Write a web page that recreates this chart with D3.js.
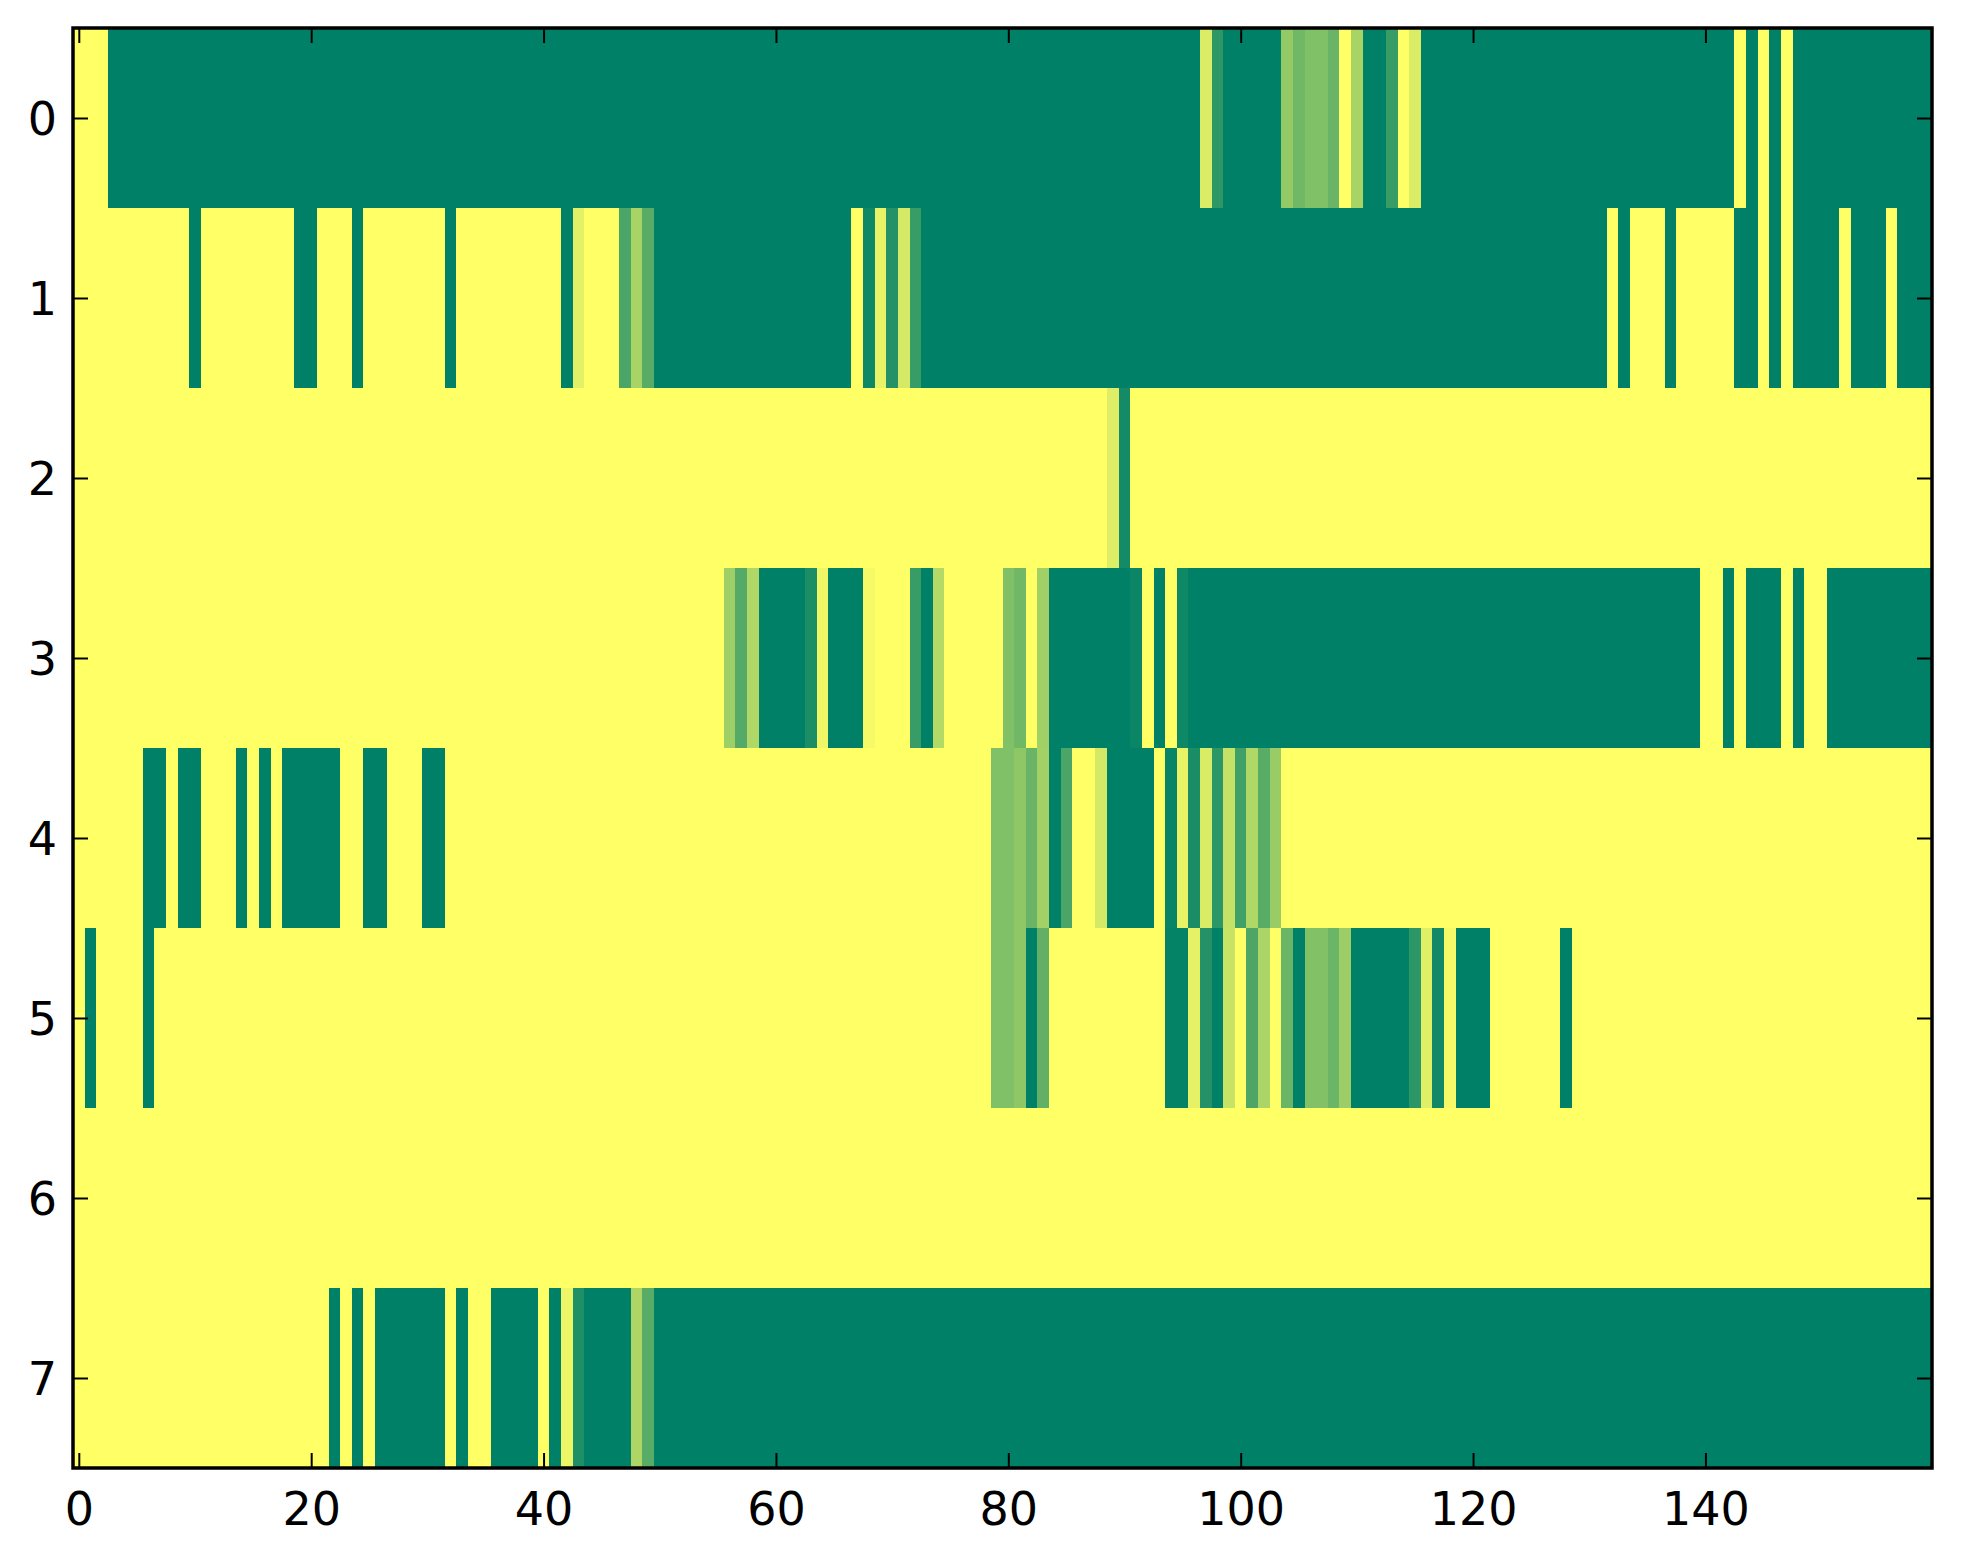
<!DOCTYPE html>
<html>
<head>
<meta charset="utf-8">
<script src="https://cdn.jsdelivr.net/npm/d3@7"></script>
<style>
    body { margin: 0; background: #fff; }
    .tick text { font-family: "DejaVu Sans", sans-serif; font-size: 46px; fill: #000; }
</style>
</head>
<body>
<div id="heatmap"></div>
<script>
// values, one array per row (160 columns each)
const row0 = [
    1,1,1,0,0,0,0,0,0,0,
    0,0,0,0,0,0,0,0,0,0,
    0,0,0,0,0,0,0,0,0,0,
    0,0,0,0,0,0,0,0,0,0,
    0,0,0,0,0,0,0,0,0,0,
    0,0,0,0,0,0,0,0,0,0,
    0,0,0,0,0,0,0,0,0,0,
    0,0,0,0,0,0,0,0,0,0,
    0,0,0,0,0,0,0,0,0,0,
    0,0,0,0,0,0,0,0.86,0.18,0,
    0,0,0,0,0.58,0.44,0.5,0.5,0.41,1,
    0.66,0,0,0.22,1,0.86,0,0,0,0,
    0,0,0,0,0,0,0,0,0,0,
    0,0,0,0,0,0,0,0,0,0,
    0,0,0,1,0,1,0,1,0,0,
    0,0,0,0,0,0,0,0,0,0
];
const row1 = [
    1,1,1,1,1,1,1,1,1,1,
    0,1,1,1,1,1,1,1,1,0,
    0,1,1,1,0,1,1,1,1,1,
    1,1,0,1,1,1,1,1,1,1,
    1,1,0,0.89,1,1,1,0.29,0.66,0.35,
    0,0,0,0,0,0,0,0,0,0,
    0,0,0,0,0,0,0,1,0.06,0.91,
    0.14,0.83,0.22,0,0,0,0,0,0,0,
    0,0,0,0,0,0,0,0,0,0,
    0,0,0,0,0,0,0,0,0,0,
    0,0,0,0,0,0,0,0,0,0,
    0,0,0,0,0,0,0,0,0,0,
    0,0,0,0,0,0,0,0,0,0,
    0,0,1,0,1,1,1,0,1,1,
    1,1,1,0,0,1,0,1,0,0,
    0,0,1,0,0,0,1,0,0,0
];
const row2 = [
    1,1,1,1,1,1,1,1,1,1,
    1,1,1,1,1,1,1,1,1,1,
    1,1,1,1,1,1,1,1,1,1,
    1,1,1,1,1,1,1,1,1,1,
    1,1,1,1,1,1,1,1,1,1,
    1,1,1,1,1,1,1,1,1,1,
    1,1,1,1,1,1,1,1,1,1,
    1,1,1,1,1,1,1,1,1,1,
    1,1,1,1,1,1,1,1,1,0.87,
    0.08,1,1,1,1,1,1,1,1,1,
    1,1,1,1,1,1,1,1,1,1,
    1,1,1,1,1,1,1,1,1,1,
    1,1,1,1,1,1,1,1,1,1,
    1,1,1,1,1,1,1,1,1,1,
    1,1,1,1,1,1,1,1,1,1,
    1,1,1,1,1,1,1,1,1,1
];
const row3 = [
    1,1,1,1,1,1,1,1,1,1,
    1,1,1,1,1,1,1,1,1,1,
    1,1,1,1,1,1,1,1,1,1,
    1,1,1,1,1,1,1,1,1,1,
    1,1,1,1,1,1,1,1,1,1,
    1,1,1,1,1,1,0.62,0.33,0.69,0,
    0,0,0,0.11,0.94,0,0,0,0.96,1,
    1,1,0.22,0,0.7,1,1,1,1,1,
    0.5,0.44,1,0.63,0,0,0,0,0,0,
    0,0.04,1,0,1,0.06,0,0,0,0,
    0,0,0,0,0,0,0,0,0,0,
    0,0,0,0,0,0,0,0,0,0,
    0,0,0,0,0,0,0,0,0,0,
    0,0,0,0,0,0,0,0,0,0,
    1,1,0,1,0,0,0,1,0,1,
    1,0,0,0,0,0,0,0,0,0
];
const row4 = [
    1,1,1,1,1,1,0,0,1,0,
    0,1,1,1,0,1,0,1,0,0,
    0,0,0,1,1,0,0,1,1,1,
    0,0,1,1,1,1,1,1,1,1,
    1,1,1,1,1,1,1,1,1,1,
    1,1,1,1,1,1,1,1,1,1,
    1,1,1,1,1,1,1,1,1,1,
    1,1,1,1,1,1,1,1,1,0.5,
    0.5,0.56,0.41,0.64,0,0.29,1,1,0.83,0,
    0,0,0,1,0.03,0.91,0.1,0.85,0.17,0.77,
    0.25,0.69,0.35,0.6,1,1,1,1,1,1,
    1,1,1,1,1,1,1,1,1,1,
    1,1,1,1,1,1,1,1,1,1,
    1,1,1,1,1,1,1,1,1,1,
    1,1,1,1,1,1,1,1,1,1,
    1,1,1,1,1,1,1,1,1,1
];
const row5 = [
    1,0,1,1,1,1,0,1,1,1,
    1,1,1,1,1,1,1,1,1,1,
    1,1,1,1,1,1,1,1,1,1,
    1,1,1,1,1,1,1,1,1,1,
    1,1,1,1,1,1,1,1,1,1,
    1,1,1,1,1,1,1,1,1,1,
    1,1,1,1,1,1,1,1,1,1,
    1,1,1,1,1,1,1,1,1,0.5,
    0.5,0.56,0,0.38,1,1,1,1,1,1,
    1,1,1,1,0.02,0.02,0.9,0.14,0,0.78,
    1,0.3,0.67,1,0.42,0,0.51,0.51,0.42,0.61,
    0,0,0,0,0,0.17,0.88,0.07,0.96,0,
    0,0,1,1,1,1,1,1,0,1,
    1,1,1,1,1,1,1,1,1,1,
    1,1,1,1,1,1,1,1,1,1,
    1,1,1,1,1,1,1,1,1,1
];
const row6 = [
    1,1,1,1,1,1,1,1,1,1,
    1,1,1,1,1,1,1,1,1,1,
    1,1,1,1,1,1,1,1,1,1,
    1,1,1,1,1,1,1,1,1,1,
    1,1,1,1,1,1,1,1,1,1,
    1,1,1,1,1,1,1,1,1,1,
    1,1,1,1,1,1,1,1,1,1,
    1,1,1,1,1,1,1,1,1,1,
    1,1,1,1,1,1,1,1,1,1,
    1,1,1,1,1,1,1,1,1,1,
    1,1,1,1,1,1,1,1,1,1,
    1,1,1,1,1,1,1,1,1,1,
    1,1,1,1,1,1,1,1,1,1,
    1,1,1,1,1,1,1,1,1,1,
    1,1,1,1,1,1,1,1,1,1,
    1,1,1,1,1,1,1,1,1,1
];
const row7 = [
    1,1,1,1,1,1,1,1,1,1,
    1,1,1,1,1,1,1,1,1,1,
    1,1,0,1,0,1,0,0,0,0,
    0,0,1,0,1,1,0,0,0,0,
    1,0,0.93,0.12,0,0,0,0,0.68,0.35,
    0,0,0,0,0,0,0,0,0,0,
    0,0,0,0,0,0,0,0,0,0,
    0,0,0,0,0,0,0,0,0,0,
    0,0,0,0,0,0,0,0,0,0,
    0,0,0,0,0,0,0,0,0,0,
    0,0,0,0,0,0,0,0,0,0,
    0,0,0,0,0,0,0,0,0,0,
    0,0,0,0,0,0,0,0,0,0,
    0,0,0,0,0,0,0,0,0,0,
    0,0,0,0,0,0,0,0,0,0,
    0,0,0,0,0,0,0,0,0,0
];
const rows = [row0, row1, row2, row3, row4, row5, row6, row7];

const xTicks = [0, 20, 40, 60, 80, 100, 120, 140];
const yTicks = [0, 1, 2, 3, 4, 5, 6, 7];

const margin = { top: 28, right: 31, bottom: 96, left: 73 };
const width = 1963;
const height = 1564;
const graphWidth = width - margin.left - margin.right;
const graphHeight = height - margin.top - margin.bottom;

const nCols = row0.length;
const nRows = rows.length;

const svg = d3.select('#heatmap')
    .append('svg')
    .attr('width', width)
    .attr('height', height);

const chart = svg.append('g')
    .attr('transform', `translate(${margin.left}, ${margin.top})`);

// scales
const x = d3.scaleLinear()
    .domain([-0.5, nCols - 0.5])
    .range([0, graphWidth]);

const y = d3.scaleLinear()
    .domain([-0.5, nRows - 0.5])
    .range([0, graphHeight]);

// matplotlib "summer" colormap
const color = d3.scaleLinear()
    .domain([0, 1])
    .range(['#008066', '#ffff66'])
    .interpolate(d3.interpolateRgb);

// flatten into cells
const cells = [];
rows.forEach((r, i) => r.forEach((v, j) => cells.push({ row: i, col: j, value: v })));

chart.append('g')
    .selectAll('rect')
    .data(cells)
    .enter()
    .append('rect')
    .attr('x', d => x(d.col - 0.5))
    .attr('y', d => y(d.row - 0.5))
    .attr('width', d => x(d.col + 0.5) - x(d.col - 0.5) + 0.4)
    .attr('height', d => y(d.row + 0.5) - y(d.row - 0.5) + 0.4)
    .attr('fill', d => color(d.value))
    .attr('shape-rendering', 'crispEdges');

// axes, ticks pointing inwards on all four sides
const tickLen = 15;

const xAxisGroup = chart.append('g')
    .attr('transform', `translate(0, ${graphHeight})`)
    .call(d3.axisBottom(x).tickValues(xTicks).tickSize(-tickLen).tickSizeOuter(0).tickPadding(24));

const yAxisGroup = chart.append('g')
    .call(d3.axisLeft(y).tickValues(yTicks).tickSize(-tickLen).tickSizeOuter(0).tickPadding(16));

const topAxisGroup = chart.append('g')
    .call(d3.axisTop(x).tickValues(xTicks).tickSize(-tickLen).tickSizeOuter(0).tickFormat(''));

const rightAxisGroup = chart.append('g')
    .attr('transform', `translate(${graphWidth}, 0)`)
    .call(d3.axisRight(y).tickValues(yTicks).tickSize(-tickLen).tickSizeOuter(0).tickFormat(''));

[xAxisGroup, yAxisGroup, topAxisGroup, rightAxisGroup].forEach(g => {
    g.select('.domain').remove();
    g.selectAll('.tick line').attr('stroke', '#000').attr('stroke-width', 2);
});

yAxisGroup.selectAll('text').attr('dy', '0.36em');

// frame
chart.append('rect')
    .attr('width', graphWidth)
    .attr('height', graphHeight)
    .attr('fill', 'none')
    .attr('stroke', '#000')
    .attr('stroke-width', 3.5);
</script>
</body>
</html>
